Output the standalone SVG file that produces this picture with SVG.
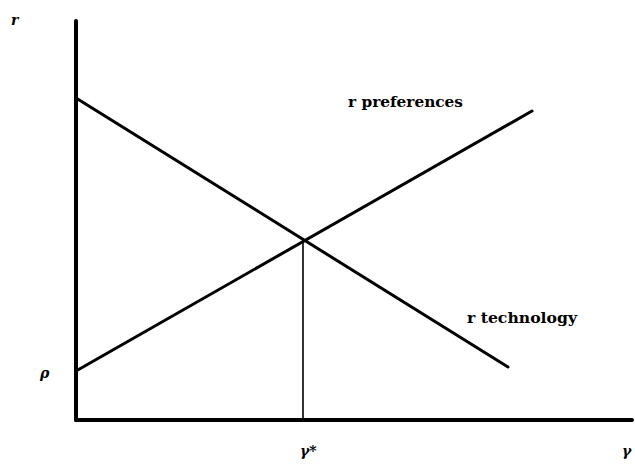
<svg xmlns="http://www.w3.org/2000/svg" width="635" height="464" viewBox="0 0 635 464">
<style>
.axis{stroke:#000;stroke-width:4;stroke-linecap:round;fill:none}
.curve{stroke:#000;stroke-width:3;stroke-linecap:round;fill:none}
.drop{stroke:#000;stroke-width:1.6;fill:none}
.lbl{font-family:"DejaVu Serif","Liberation Serif",serif;font-weight:bold;font-size:15px;fill:#000}
.ax{font-family:"DejaVu Serif","Liberation Serif",serif;font-style:italic;font-weight:bold;font-size:14px;fill:#000}
</style>
<rect width="635" height="464" fill="#fff"/>
<g id="connectors">
<line class="axis" x1="76" y1="21" x2="76" y2="420"/>
<line class="axis" x1="76" y1="420" x2="632" y2="420"/>
<line class="curve" x1="76" y1="98" x2="508" y2="367"/>
<line class="curve" x1="76" y1="371" x2="532" y2="111"/>
<line class="drop" x1="303" y1="240" x2="303" y2="420"/>
</g>
<g id="r-preferences"><text class="lbl" x="348" y="107" textLength="115" lengthAdjust="spacingAndGlyphs">r preferences</text></g>
<g id="r-technology"><text class="lbl" x="467" y="323" textLength="110" lengthAdjust="spacingAndGlyphs">r technology</text></g>
<g id="axis-r"><text class="ax" x="11" y="25">r</text></g>
<g id="axis-rho"><text class="ax" x="40" y="378">ρ</text></g>
<g id="axis-ystar"><text class="ax" x="300" y="456">γ*</text></g>
<g id="axis-y"><text class="ax" x="622" y="456">γ</text></g>
</svg>
